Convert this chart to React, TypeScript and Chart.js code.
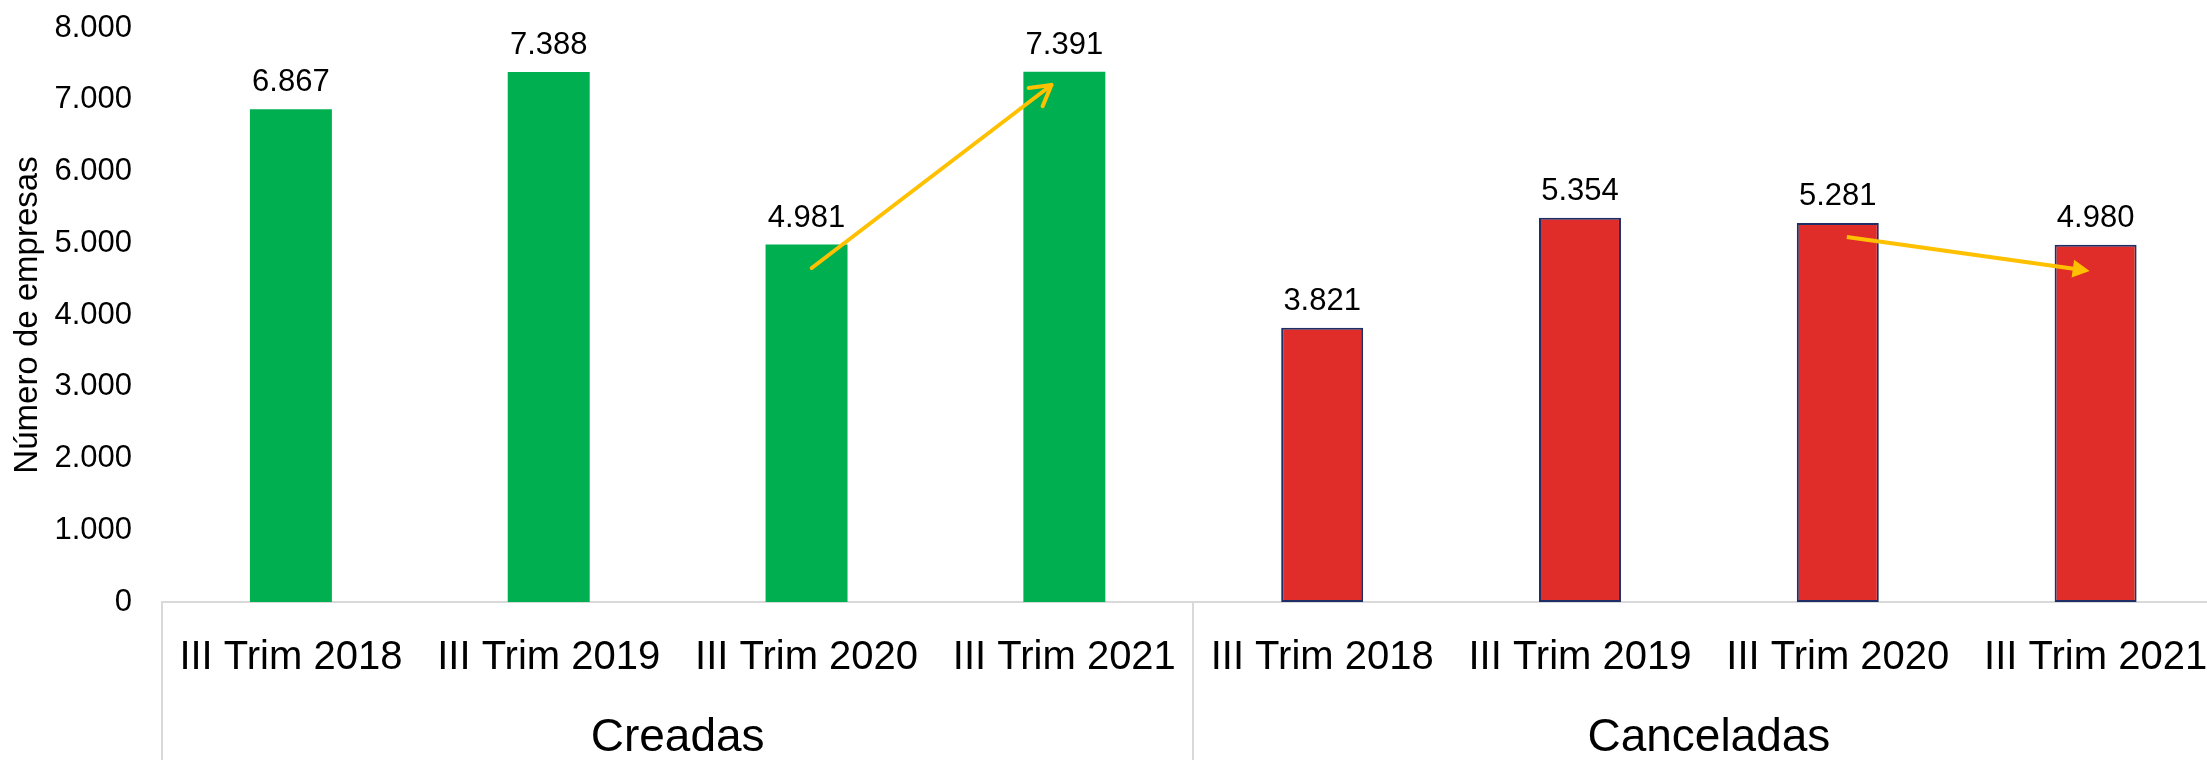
import React, { useEffect, useRef } from 'react';
import { Chart, registerables } from 'chart.js';

Chart.register(...registerables);

// ---- data ----
const categories = [
  'III Trim 2018', 'III Trim 2019', 'III Trim 2020', 'III Trim 2021',
  'III Trim 2018', 'III Trim 2019', 'III Trim 2020', 'III Trim 2021',
];
const groupNames = ['Creadas', 'Canceladas'];
const groupSizes = [4, 4];
const values = [6867, 7388, 4981, 7391, 3821, 5354, 5281, 4980];
const barColors = ['#00B050', '#00B050', '#00B050', '#00B050', '#E02D2A', '#E02D2A', '#E02D2A', '#E02D2A'];
const barBorderColors = ['#00B050', '#00B050', '#00B050', '#00B050', '#1F2F66', '#1F2F66', '#1F2F66', '#1F2F66'];
const barBorderWidths = [0, 0, 0, 0, 2, 2, 2, 2];
const yMin = 0;
const yMax = 8000;
const yStep = 1000;
const yTitle = 'Número de empresas';
// arrows: [category position (fractional index), value]
const arrowFrom = [[2.02, 4655], [6.035, 5087]];
const arrowTo = [[2.95, 7206], [6.977, 4613]];
const arrowHeads = ['open', 'filled'];

const FONT = "'Liberation Sans', Arial, sans-serif";
const ARROW_COLOR = '#FFC000';
const LINE_GREY = '#D9D9D9';

const fmt = (v: number) => String(Math.round(v)).replace(/\B(?=(\d{3})+(?!\d))/g, '.');

const dataLabelPlugin = {
  id: 'dataLabels',
  afterDatasetsDraw(chart: any) {
    const { ctx } = chart;
    const meta = chart.getDatasetMeta(0);
    ctx.save();
    ctx.font = `31px ${FONT}`;
    ctx.fillStyle = '#000';
    ctx.textAlign = 'center';
    ctx.textBaseline = 'alphabetic';
    meta.data.forEach((el: any, i: number) => {
      ctx.fillText(fmt(values[i]), el.x, el.y - 18);
    });
    ctx.restore();
  },
};

const arrowPlugin = {
  id: 'arrows',
  afterDatasetsDraw(chart: any) {
    const { ctx } = chart;
    const xs = chart.scales.x;
    const ys = chart.scales.y;
    ctx.save();
    ctx.strokeStyle = ARROW_COLOR;
    ctx.fillStyle = ARROW_COLOR;
    ctx.lineWidth = 4;
    ctx.lineCap = 'round';
    ctx.lineJoin = 'round';
    arrowFrom.forEach((f, i) => {
      const t = arrowTo[i];
      const x1 = xs.getPixelForValue(f[0]);
      const y1 = ys.getPixelForValue(f[1]);
      const x2 = xs.getPixelForValue(t[0]);
      const y2 = ys.getPixelForValue(t[1]);
      const ang = Math.atan2(y2 - y1, x2 - x1);
      if (arrowHeads[i] === 'open') {
        ctx.beginPath();
        ctx.moveTo(x1, y1);
        ctx.lineTo(x2, y2);
        ctx.stroke();
        const L = 23;
        const a = Math.PI / 6;
        ctx.beginPath();
        ctx.moveTo(x2 - L * Math.cos(ang - a), y2 - L * Math.sin(ang - a));
        ctx.lineTo(x2, y2);
        ctx.lineTo(x2 - L * Math.cos(ang + a), y2 - L * Math.sin(ang + a));
        ctx.stroke();
      } else {
        const L = 17;
        const W = 9;
        const bx = x2 - L * Math.cos(ang);
        const by = y2 - L * Math.sin(ang);
        ctx.lineCap = 'butt';
        ctx.beginPath();
        ctx.moveTo(x1, y1);
        ctx.lineTo(bx + 1 * Math.cos(ang), by + 1 * Math.sin(ang));
        ctx.stroke();
        ctx.beginPath();
        ctx.moveTo(x2, y2);
        ctx.lineTo(bx + W * Math.sin(ang), by - W * Math.cos(ang));
        ctx.lineTo(bx - W * Math.sin(ang), by + W * Math.cos(ang));
        ctx.closePath();
        ctx.fill();
      }
    });
    ctx.restore();
  },
};

const groupAxisPlugin = {
  id: 'groupAxis',
  afterDraw(chart: any) {
    const { ctx, chartArea } = chart;
    const xs = chart.scales.x;
    const bottom = chart.height;
    ctx.save();
    ctx.strokeStyle = LINE_GREY;
    ctx.lineWidth = 2;
    let start = 0;
    const bounds: number[] = [-0.5];
    groupSizes.forEach((n) => {
      start += n;
      bounds.push(start - 0.5);
    });
    bounds.forEach((b) => {
      const x = Math.round(xs.getPixelForValue(b));
      ctx.beginPath();
      ctx.moveTo(x, chartArea.bottom);
      ctx.lineTo(x, bottom);
      ctx.stroke();
    });
    ctx.font = `46px ${FONT}`;
    ctx.fillStyle = '#000';
    ctx.textAlign = 'center';
    ctx.textBaseline = 'middle';
    groupNames.forEach((g, i) => {
      const xa = xs.getPixelForValue(bounds[i]);
      const xb = xs.getPixelForValue(bounds[i + 1]);
      ctx.fillText(g, (xa + xb) / 2, 738);
    });
    ctx.restore();
  },
};

export default function App() {
  const ref = useRef<HTMLCanvasElement | null>(null);
  useEffect(() => {
    if (!ref.current) return;
    Chart.defaults.font.family = FONT;
    const chart = new Chart(ref.current, {
      type: 'bar',
      data: {
        labels: categories,
        datasets: [
          {
            data: values,
            backgroundColor: barColors,
            borderColor: barBorderColors,
            borderWidth: barBorderWidths,
            borderSkipped: false,
            categoryPercentage: 1,
            barPercentage: 0.318,
          },
        ],
      },
      options: {
        responsive: false,
        animation: false,
        devicePixelRatio: 1,
        layout: { padding: { top: 28, right: 14, bottom: 78, left: 0 } },
        plugins: {
          legend: { display: false },
          tooltip: { enabled: false },
          title: { display: false },
        },
        scales: {
          x: {
            type: 'category',
            offset: true,
            grid: { display: false, drawTicks: false },
            border: { display: true, color: LINE_GREY, width: 2 },
            ticks: {
              font: { size: 40, family: FONT },
              color: '#000',
              padding: 32,
              maxRotation: 0,
              autoSkip: false,
            },
            afterFit: (s: any) => {
              s.height = 80;
            },
          },
          y: {
            min: yMin,
            max: yMax,
            grid: { display: false, drawTicks: false },
            border: { display: false },
            ticks: {
              stepSize: yStep,
              font: { size: 31, family: FONT },
              color: '#000',
              padding: 30,
              callback: (v: any) => fmt(Number(v)),
            },
            title: {
              display: true,
              text: yTitle,
              font: { size: 33, family: FONT },
              color: '#000',
              padding: { top: 8, bottom: 0 },
            },
            afterFit: (s: any) => {
              s.width = 162;
              s.paddingTop = 0;
              s.paddingBottom = 0;
            },
          },
        },
      },
      plugins: [dataLabelPlugin, arrowPlugin, groupAxisPlugin],
    });
    return () => chart.destroy();
  }, []);

  return (
    <div
      style={{
        position: 'fixed',
        left: 0,
        top: 0,
        width: 2207,
        height: 760,
        overflow: 'hidden',
        background: '#fff',
      }}
    >
      <canvas ref={ref} width={2240} height={760} style={{ display: 'block', width: 2240, height: 760 }} />
    </div>
  );
}
